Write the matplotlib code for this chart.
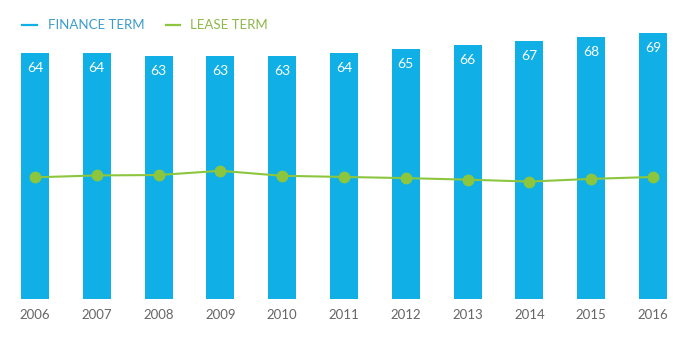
import matplotlib
matplotlib.use("Agg")
import matplotlib.pyplot as plt

plt.rcParams['font.family'] = ['Lato', 'DejaVu Sans']

years = ['2006', '2007', '2008', '2009', '2010', '2011', '2012', '2013', '2014', '2015', '2016']
finance_term = [64, 64, 63, 63, 63, 64, 65, 66, 67, 68, 69]
lease_term = [31.6, 32.1, 32.2, 33.3, 32.0, 31.7, 31.4, 31.0, 30.5, 31.2, 31.7]

blue = '#10afe5'
green = '#8cc63f'

fig = plt.figure(figsize=(6.99, 3.49), dpi=100)
ax = fig.add_axes([4/699, 50/349, 680/699, 269.5/349])
x = list(range(len(years)))
ax.bar(x, finance_term, width=0.453, color=blue, zorder=1)
ax.plot(x, lease_term, color=green, lw=1.5, marker='o', markersize=7.5, zorder=3)
for xi, v in zip(x, finance_term):
    ax.annotate(str(v), (xi, v), xytext=(0, -15), textcoords='offset pixels',
                ha='center', va='center', color='white', fontsize=10)
ax.set_xlim(-0.5, 10.5)
ax.set_ylim(0, 70)
ax.set_xticks(x)
ax.set_xticklabels(years, color='#666666', fontsize=9.5)
ax.tick_params(axis='x', length=0, pad=7)
ax.set_yticks([])
for s in ax.spines.values():
    s.set_visible(False)

# legend
ly = 1 - 25/349
fig.lines.append(plt.Line2D([22/699, 37/699], [ly, ly], color=blue, lw=1.6, transform=fig.transFigure))
fig.text(48/699, ly, 'FINANCE TERM', color='#3b9ccb', fontsize=9.5, va='center', ha='left')
fig.lines.append(plt.Line2D([166/699, 180/699], [ly, ly], color=green, lw=1.6, transform=fig.transFigure))
fig.text(190/699, ly, 'LEASE TERM', color='#8db84a', fontsize=9.5, va='center', ha='left')

fig.savefig('out.png', dpi=100)
